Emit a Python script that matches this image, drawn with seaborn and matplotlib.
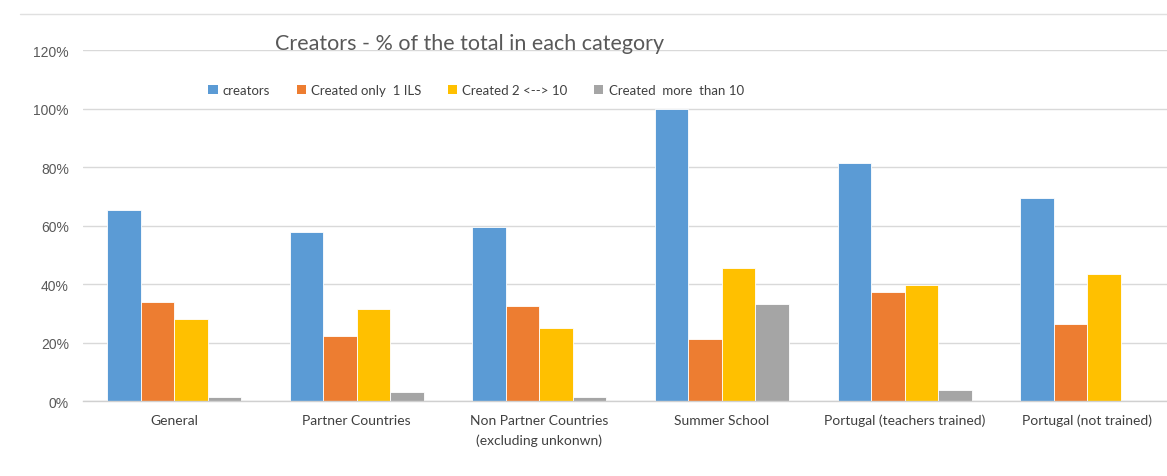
import matplotlib
matplotlib.use("Agg")
import matplotlib.pyplot as plt
import seaborn as sns
import pandas as pd
from matplotlib.ticker import PercentFormatter
from matplotlib.patches import Patch
from matplotlib.lines import Line2D

categories = [
    "General",
    "Partner Countries",
    "Non Partner Countries\n(excluding unkonwn)",
    "Summer School",
    "Portugal (teachers trained)",
    "Portugal (not trained)",
]
series_names = ["creators", "Created only  1 ILS", "Created 2 <--> 10", "Created  more  than 10"]
creators = [65.4, 57.9, 59.5, 100.0, 81.5, 69.4]
created_one = [33.9, 22.3, 32.6, 21.2, 37.4, 26.4]
created_2_10 = [28.1, 31.5, 25.1, 45.4, 39.8, 43.3]
created_over_10 = [1.4, 3.1, 1.5, 33.3, 3.8, 0.0]
colors = ["#5B9BD5", "#ED7D31", "#FFC000", "#A5A5A5"]
y_ticks = [0, 20, 40, 60, 80, 100, 120]

rows = []
for name, vals in zip(series_names, [creators, created_one, created_2_10, created_over_10]):
    for cat, v in zip(categories, vals):
        rows.append({"category": cat, "series": name, "value": v})
df = pd.DataFrame(rows)

sns.set_theme(style="white")
plt.rcParams["font.family"] = ["Lato", "DejaVu Sans"]

fig = plt.figure(figsize=(11.67, 4.77), dpi=100)
ax = fig.add_axes([0.0709, 0.157, 0.939, 0.736])
ax.set_clip_on(False)

sns.barplot(data=df, x="category", y="value", hue="series", order=categories,
            hue_order=series_names, palette=colors, width=0.734, saturation=1,
            edgecolor="white", linewidth=0.6, ax=ax, legend=False)

ax.set_ylim(0, 120)
ax.set_xlim(-0.5, len(categories) - 0.5)
ax.set_yticks(y_ticks)
ax.yaxis.set_major_formatter(PercentFormatter(decimals=0))
ax.grid(axis="y", color="#d9d9d9", linewidth=1)
ax.set_axisbelow(True)
for s in ["top", "right", "left"]:
    ax.spines[s].set_visible(False)
ax.spines["bottom"].set_color("#d0d0d0")
ax.spines["bottom"].set_linewidth(1)
ax.tick_params(axis="both", length=0)
ax.tick_params(axis="y", pad=10, labelsize=10, labelcolor="#595959")
for lbl in ax.get_yticklabels():
    lbl.set_family(["Liberation Sans", "DejaVu Sans"])
ax.tick_params(axis="x", pad=9, labelsize=10, labelcolor="#404040")
for lbl in ax.get_xticklabels():
    lbl.set_linespacing(1.7)
ax.set_xlabel("")
ax.set_ylabel("")

fig.text(275 / 1167, 1 - 44 / 477, "Creators - % of the total in each category",
         fontsize=15.5, color="#595959", ha="left", va="center")

handles = [Patch(facecolor=c, edgecolor="none") for c in colors]
fig.legend(handles, series_names, loc="center", bbox_to_anchor=(476 / 1167, 1 - 91 / 477),
           ncol=4, frameon=False, fontsize=9.5, labelcolor="#404040",
           handlelength=0.7, handleheight=0.7, handletextpad=0.4, columnspacing=2.0)

fig.add_artist(Line2D([20 / 1167, 1.0], [1 - 15 / 477, 1 - 15 / 477],
                      color="#e0e0e0", linewidth=1, transform=fig.transFigure))

fig.savefig("out.png", dpi=100)
